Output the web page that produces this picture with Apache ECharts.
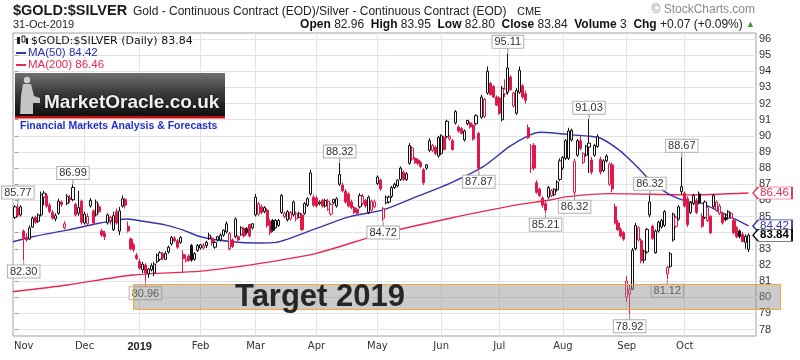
<!DOCTYPE html>
<html><head><meta charset="utf-8">
<script src="https://cdn.jsdelivr.net/npm/echarts@6/dist/echarts.min.js"></script>
<style>html,body{margin:0;padding:0;background:#fff}#c{width:800px;height:360px}</style>
</head><body><div id="c"></div>
<script>
// ---- Data (trading-day index 0 = 29-Oct-2018 ... 253 = 31-Oct-2019) ----
const monthIdx    = [3, 24, 43, 64, 83, 104, 125, 147, 167, 189, 211, 231];
const monthLabels = ['Nov','Dec','2019','Feb','Mar','Apr','May','Jun','Jul','Aug','Sep','Oct'];
const gridMonthIdx = [24, 43, 64, 83, 104, 125, 147, 167, 189, 211, 231];
const yTicks = [78,79,80,81,82,83,84,85,86,87,88,89,90,91,92,93,94,95,96];

const opens = [84.95,85.55,85.10,84.10,83.70,83.60,84.35,84.95,84.70,85.10,86.20,86.30,85.70,85.25,84.85,85.20,85.90,84.30,85.80,86.15,
86.05,85.75,85.20,85.95,84.60,84.55,85.65,85.35,85.10,85.60,84.10,83.95,84.60,84.75,84.20,85.30,84.10,85.65,86.05,84.40,
83.60,83.25,82.60,82.20,81.70,82.00,81.45,81.70,81.50,82.20,82.35,82.70,82.35,82.80,83.30,83.65,83.50,83.40,82.65,82.25,
82.55,83.20,82.35,82.90,83.05,83.05,83.20,83.65,83.65,83.10,83.55,83.55,83.85,84.05,83.00,83.55,83.75,83.75,83.90,84.25,
84.25,84.50,84.30,85.10,85.15,85.60,85.30,85.40,84.70,84.75,84.30,84.45,85.25,85.00,84.80,84.85,85.10,84.85,84.95,85.10,
85.20,85.70,86.40,86.20,86.15,85.80,86.00,85.65,85.45,85.15,85.85,85.65,87.00,86.95,86.55,86.40,85.90,85.55,85.45,85.60,
85.80,86.00,85.25,85.40,85.60,87.05,87.25,84.90,85.85,85.90,86.25,86.80,86.90,87.30,87.75,87.30,88.30,88.55,88.60,88.50,
88.35,87.90,88.00,89.10,89.10,89.30,88.75,88.90,89.90,89.95,89.80,89.70,90.80,90.55,90.45,89.75,90.75,90.80,90.65,90.75,
90.15,91.15,91.20,92.65,93.25,93.05,92.40,92.35,91.00,92.60,92.70,93.65,91.85,91.40,92.70,93.10,92.60,90.50,88.00,89.40,
87.10,86.70,86.15,85.80,86.20,86.30,86.35,86.65,87.30,88.00,88.60,88.60,89.75,86.50,88.80,89.70,88.35,88.80,89.30,88.50,
88.80,89.35,88.55,87.85,88.45,87.00,88.20,85.60,84.60,84.20,84.00,80.00,80.20,80.50,83.00,83.55,83.50,82.30,82.80,85.10,
84.40,82.75,84.10,84.35,84.45,81.45,81.90,83.55,84.40,84.85,86.55,86.45,86.10,85.25,85.80,86.00,86.40,85.00,84.95,84.75,
85.00,85.60,85.40,85.20,85.20,84.95,84.90,84.95,84.75,84.30,84.10,83.90,83.40,82.96];
const highs = [85.70,85.77,85.70,84.20,83.95,84.45,85.00,85.05,85.20,86.55,86.60,86.45,85.85,85.40,85.20,86.10,86.00,84.70,86.40,86.35,
86.99,85.85,86.60,86.05,85.30,85.20,86.15,85.45,86.05,85.80,84.25,84.10,85.20,85.05,85.30,85.50,85.60,86.30,86.15,84.70,
83.70,83.35,82.75,82.40,82.20,82.10,81.80,82.10,82.20,82.70,82.85,82.80,82.85,83.20,83.80,83.80,83.60,83.80,82.90,82.65,
82.65,83.30,82.80,83.30,83.30,83.35,83.50,84.00,83.75,83.50,83.80,83.95,84.20,84.70,84.05,83.65,84.95,83.85,84.40,84.35,
84.35,84.55,84.60,86.40,85.90,85.75,85.65,85.50,84.85,84.85,84.85,84.85,86.40,85.30,85.40,85.35,86.00,85.30,85.30,85.20,
85.90,86.20,87.90,86.35,86.30,86.00,86.10,86.10,86.10,85.85,86.10,86.20,88.32,87.10,86.70,86.50,86.05,85.65,85.55,86.45,
86.40,86.10,86.30,86.05,86.05,87.55,87.35,85.60,86.30,86.30,86.90,87.10,87.30,88.10,87.85,87.75,89.55,89.35,88.70,88.60,
88.45,88.00,88.25,89.85,89.50,89.40,90.00,90.10,90.00,91.00,90.05,89.80,91.60,90.65,90.55,90.40,91.00,90.90,90.75,91.35,
90.25,92.55,92.35,94.30,93.35,93.15,92.50,92.45,93.10,93.50,95.11,93.75,92.75,92.95,94.30,93.20,92.80,90.70,89.50,89.55,
87.25,86.80,86.25,86.00,86.90,86.70,86.75,87.25,88.60,88.75,89.80,90.50,90.45,88.60,89.80,90.00,89.00,89.45,91.03,88.70,
89.50,90.10,88.70,88.55,88.85,88.35,88.35,85.80,84.80,84.30,84.10,81.30,80.80,83.05,84.60,84.40,83.65,82.95,84.30,86.32,
84.50,84.20,84.75,84.85,85.40,81.95,82.80,85.25,85.05,85.70,88.67,86.55,86.25,85.95,86.40,86.15,86.55,85.20,86.00,85.65,
85.10,86.40,86.00,85.80,85.30,85.20,85.40,85.30,84.85,84.40,84.20,84.05,83.90,83.95];
const lows = [84.85,84.95,85.00,82.30,83.45,83.55,84.30,84.55,84.60,85.00,85.70,85.55,85.20,84.80,84.70,85.10,85.60,84.20,85.70,85.85,
85.95,85.00,85.05,84.50,84.50,84.45,85.55,84.50,85.00,85.20,83.75,83.55,84.50,84.50,84.10,84.50,83.85,85.55,85.50,84.00,
82.90,82.80,82.30,81.70,81.50,80.96,81.20,81.60,81.30,82.10,82.25,82.30,82.30,82.70,83.20,83.40,83.00,83.30,81.50,82.15,
82.20,82.20,82.25,82.80,82.95,82.95,83.05,83.55,83.20,83.00,83.45,83.45,83.75,83.95,82.90,83.05,83.65,83.50,83.80,83.70,
83.90,83.70,84.20,85.00,85.05,85.15,85.20,84.30,83.85,84.05,84.25,84.35,85.15,84.90,84.70,84.75,85.00,84.70,84.90,84.10,
85.10,85.60,86.30,85.60,85.55,85.70,85.55,85.55,85.35,85.05,85.75,85.55,86.90,86.50,85.80,85.55,85.45,85.15,85.15,85.50,
85.70,85.55,85.15,85.30,85.50,86.95,86.60,84.72,85.75,85.80,86.15,86.70,86.80,87.20,87.20,87.20,88.20,88.45,88.25,88.20,
88.00,86.95,87.90,89.00,89.00,88.80,88.65,88.80,89.10,89.85,89.70,89.10,90.70,90.20,90.10,89.65,90.65,90.45,89.70,90.65,
87.87,91.05,91.10,92.55,92.50,92.35,91.85,91.30,90.90,92.40,92.55,92.80,91.75,91.30,92.60,92.30,92.00,89.80,87.70,87.85,
86.40,86.20,85.55,85.21,86.10,86.20,86.25,86.55,87.20,87.90,88.50,88.50,89.65,86.32,88.70,89.10,88.25,88.70,87.70,87.60,
88.70,89.25,87.60,87.75,88.35,86.90,86.50,84.50,84.10,83.70,83.50,79.70,78.92,80.45,82.90,83.45,82.10,82.10,82.70,84.95,
83.55,82.70,84.00,84.25,84.35,81.12,81.80,83.45,84.30,84.75,86.35,85.55,84.35,85.15,85.70,85.15,85.75,84.30,84.85,84.65,
83.90,85.50,85.30,85.10,84.50,84.70,84.80,84.85,83.90,83.65,83.65,83.40,83.00,82.80];
const closes = [85.60,85.05,85.60,83.70,83.55,84.30,84.90,84.65,85.10,86.35,86.45,85.65,85.30,84.90,85.05,85.95,85.75,84.55,86.25,86.05,
86.80,85.10,85.55,84.65,85.15,85.00,86.00,84.60,85.90,85.30,83.85,83.75,85.10,84.95,85.05,84.60,85.35,86.10,85.70,84.10,
83.00,82.95,82.40,81.80,82.05,81.50,81.75,81.95,82.05,82.60,82.75,82.45,82.70,83.10,83.70,83.50,83.10,83.70,82.40,82.35,
82.30,82.30,82.70,83.20,83.25,83.20,83.40,83.85,83.35,83.40,83.75,83.85,84.15,84.55,83.95,83.15,84.85,83.55,84.30,83.80,
84.00,83.80,84.55,86.20,85.80,85.25,85.55,84.45,84.00,84.15,84.75,84.75,86.30,85.20,85.30,85.25,85.90,85.20,85.20,84.20,
85.80,86.10,87.70,85.70,85.65,85.90,85.65,86.00,85.95,85.75,86.05,86.10,87.60,86.60,85.90,85.65,85.55,85.25,85.20,86.30,
86.25,85.65,86.20,85.95,85.90,87.45,86.70,85.50,86.20,86.20,86.80,87.00,87.25,88.00,87.30,87.65,89.40,89.25,88.35,88.30,
88.10,87.10,88.20,89.70,89.40,88.90,89.90,90.00,89.15,90.90,89.95,89.15,91.50,90.30,90.15,90.30,90.95,90.55,89.80,91.25,
88.00,92.40,92.25,94.00,92.55,92.40,91.90,91.40,92.95,92.90,94.20,92.85,92.65,92.80,94.05,92.40,92.20,89.90,89.30,88.00,
86.50,86.30,85.70,85.40,86.80,86.60,86.70,87.15,88.45,88.65,89.70,90.30,90.35,88.40,89.70,89.20,88.90,89.35,89.55,87.75,
89.40,89.95,87.75,88.45,88.75,88.25,86.70,84.60,84.20,83.80,83.60,81.00,80.50,82.90,84.45,84.30,82.25,82.85,84.20,85.90,
83.65,84.10,84.65,84.75,85.30,81.85,82.70,85.15,84.95,85.60,86.85,85.65,84.50,85.85,86.30,85.25,85.85,84.40,85.90,85.55,
84.00,86.30,85.90,85.65,84.60,84.80,85.30,85.20,84.00,83.75,83.75,83.45,83.77,83.84];

// Moving averages: [trading-day index, value]
const ma50 = [[-0.7,83.44],[6,83.75],[18,84.16],[29,84.58],[38.5,84.85],[43,84.74],[52,84.47],[58,84.16],[64,83.75],[75,83.44],
[84,83.36],[90,83.40],[104,84.27],[115.5,84.99],[127,85.41],[138.5,86.23],[150,87.06],[161.5,88.09],[170.5,89.33],[177.5,90.05],
[181,90.22],[186,90.18],[192,90.06],[198,89.98],[202,89.85],[208.5,89.1],[214.5,88.1],[220,87.06],[226,86.34],[232,85.92],
[237,85.82],[243,85.3],[249,84.79],[253,84.42]];
const ma200 = [[-0.7,80.34],[18,80.76],[40.7,81.38],[64,81.62],[84.5,82.1],[104,82.72],[127,83.96],[150,84.89],[173,85.72],
[184.5,86.02],[190,86.22],[205,86.42],[220,86.38],[232,86.34],[253,86.46]];

// High/low callouts: [index, value, 'h'|'l']
const callouts = [[1,85.77,'h'],[3,82.30,'l'],[20,86.99,'h'],[45,80.96,'l'],[112,88.32,'h'],[127,84.72,'l'],[160,87.87,'l'],
[170,95.11,'h'],[183,85.21,'l'],[193,86.32,'l'],[198,91.03,'h'],[212,78.92,'l'],[219,86.32,'h'],[225,81.12,'l'],[230,88.67,'h']];

const lastClose = 83.84, lastMa50 = 84.42, lastMa200 = 86.46;
const targetBand = [79.27, 80.82];
const targetStartIdx = 40.7;

// ---- Chart ----
const RED = '#e0194b', BLK = '#111111', BLUE = '#3535ae', MARED = '#e8294f';
const FONT = '"Liberation Sans", Arial, sans-serif';

const candleData = opens.map((o, i) => {
  const c = closes[i];
  const prev = i > 0 ? closes[i - 1] : o;
  const col = c >= prev ? BLK : RED;
  const fill = c > o ? '#ffffff' : col;
  return { value: [i, o, c, lows[i], highs[i]],
    itemStyle: { color: fill, color0: fill, borderColor: col, borderColor0: col, borderWidth: 1 } };
});

const calloutPts = callouts.map(([i, v, t]) => ({
  coord: [i, v], value: v,
  symbol: 'rect', symbolSize: [1, 5], symbolOffset: [0, t === 'h' ? -3 : 3],
  itemStyle: { color: '#8a8a8a' },
  label: { show: true, position: t === 'h' ? 'top' : 'bottom', distance: 0,
    formatter: v.toFixed(2), backgroundColor: '#ffffff', borderColor: '#b0b0b0', borderWidth: 1,
    padding: [1, 2, 0, 2], color: '#333', fontSize: 11, fontFamily: FONT }
}));

function tag(i, v, color, bold) {
  return { coord: [i, v], value: v,
    symbol: 'path://M0,6L6,0L44,0L44,12L6,12Z', symbolSize: [39, 12], symbolKeepAspect: false,
    symbolOffset: [24, 0],
    itemStyle: { color: '#ffffff', borderColor: color, borderWidth: 1 },
    label: { show: true, position: 'inside', offset: [2, 0], formatter: v.toFixed(2), color: color,
      fontSize: 11.5, fontWeight: bold ? 'bold' : 'normal', fontFamily: FONT } };
}
const lastIdx = closes.length - 1;

const G = (o) => Object.assign({ z: 100 }, o);
const headerGraphics = [
  G({ id: 'title', type: 'text', x: 13, y: 11, style: { text: '$GOLD:$SILVER', font: 'bold 14.5px ' + FONT, fill: '#1a1a1a', verticalAlign: 'middle' } }),
  G({ id: 'sub', type: 'text', x: 133, y: 12, style: { text: 'Gold - Continuous Contract (EOD)/Silver - Continuous Contract (EOD)', font: '12px ' + FONT, fill: '#222', verticalAlign: 'middle' } }),
  G({ id: 'cme', type: 'text', x: 517, y: 12, style: { text: 'CME', font: '11px ' + FONT, fill: '#222', verticalAlign: 'middle' } }),
  G({ id: 'sc', type: 'text', x: 755, y: 10, style: { text: '© StockCharts.com', font: '12px ' + FONT, fill: '#8a8a8a', align: 'right', verticalAlign: 'middle' } }),
  G({ id: 'date', type: 'text', x: 13, y: 25, style: { text: '31-Oct-2019', font: '11px ' + FONT, fill: '#222', verticalAlign: 'middle' } }),
  G({ id: 'ohlc', type: 'text', x: 755, y: 25, style: {
      text: '{b|Open} 82.96  {b|High} 83.95  {b|Low} 82.80  {b|Close} 83.84  {b|Volume} 3  {b|Chg} +0.07 (+0.09%) {g|▲}',
      font: '12px ' + FONT, fill: '#222', align: 'right', verticalAlign: 'middle',
      rich: { b: { font: 'bold 12px ' + FONT, fill: '#111' }, g: { font: '9px ' + FONT, fill: '#2a9a2a' } } } }),
  // legend inside the plot
  G({ id: 'ic1', type: 'rect', shape: { x: 17, y: 37, width: 3, height: 7 }, style: { fill: '#222' } }),
  G({ id: 'ic2', type: 'rect', shape: { x: 22, y: 36, width: 3, height: 6 }, style: { fill: '#fff', stroke: '#222', lineWidth: 1 } }),
  G({ id: 'ic3', type: 'rect', shape: { x: 26, y: 38, width: 2, height: 6 }, style: { fill: '#222' } }),
  G({ id: 'lg0', type: 'text', x: 31, y: 41, style: { text: '$GOLD:$SILVER (Daily) 83.84', font: '11px "DejaVu Sans", Verdana, sans-serif', fill: '#111', verticalAlign: 'middle' } }),
  G({ id: 'lg1l', type: 'rect', shape: { x: 16, y: 52, width: 10, height: 2 }, style: { fill: BLUE } }),
  G({ id: 'lg1', type: 'text', x: 28, y: 53, style: { text: 'MA(50) 84.42', font: '11.5px ' + FONT, fill: '#2b2bb5', verticalAlign: 'middle' } }),
  G({ id: 'lg2l', type: 'rect', shape: { x: 16, y: 64, width: 10, height: 2 }, style: { fill: MARED } }),
  G({ id: 'lg2', type: 'text', x: 28, y: 65, style: { text: 'MA(200) 86.46', font: '11.5px ' + FONT, fill: MARED, verticalAlign: 'middle' } }),
  // MarketOracle logo
  G({ id: 'logo', type: 'rect', shape: { x: 15, y: 73, width: 210, height: 43 },
    style: { fill: new echarts.graphic.LinearGradient(0, 0, 0, 1, [{ offset: 0, color: '#707070' }, { offset: 0.45, color: '#3c3c3c' }, { offset: 1, color: '#101010' }]) } }),
  G({ id: 'logoRed', type: 'rect', shape: { x: 15, y: 116, width: 210, height: 2.5 }, style: { fill: '#c81010' } }),
  G({ id: 'st1', type: 'circle', shape: { cx: 27, cy: 80, r: 3.2 }, style: { fill: '#cfcfcf' } }),
  G({ id: 'st2', type: 'polygon', shape: { points: [[23, 84], [31, 84], [34, 96], [40, 98], [40, 103], [33, 103], [33, 114], [20, 114], [21, 96]] }, style: { fill: '#c4c4c4' } }),
  G({ id: 'logoTxt', type: 'text', x: 44, y: 103, style: { text: 'MarketOracle.co.uk', font: 'bold 19px ' + FONT, fill: '#f2f2f2', verticalAlign: 'middle', textShadowColor: '#000', textShadowBlur: 2 } }),
  G({ id: 'logoSub', type: 'text', x: 20, y: 126, style: { text: 'Financial Markets Analysis & Forecasts', font: 'bold 10.5px ' + FONT, fill: '#1f2fd0', verticalAlign: 'middle' } })
];

const chart = echarts.init(document.getElementById('c'), null, { renderer: 'canvas', width: 800, height: 360 });
const option = {
  animation: false,
  backgroundColor: '#ffffff',
  grid: { left: 13, top: 33, right: 44, bottom: 24, containLabel: false, show: true, borderColor: '#a0a0a0', borderWidth: 1, backgroundColor: 'transparent' },
  xAxis: {
    type: 'value', min: -0.69, max: 255.59,
    axisLine: { show: false },
    axisTick: { show: false, customValues: gridMonthIdx },
    splitLine: { show: true, lineStyle: { color: '#e3e3e3', width: 1 } },
    axisLabel: { customValues: monthIdx, margin: 5, fontSize: 10, color: '#333', fontFamily: '"DejaVu Sans", Verdana, sans-serif',
      formatter: v => { const k = monthIdx.indexOf(v); const s = k >= 0 ? monthLabels[k] : ''; return s === '2019' ? '{b|2019}' : s; },
      rich: { b: { fontWeight: 'bold', fontSize: 11, color: '#222', fontFamily: FONT } } }
  },
  yAxis: {
    type: 'value', position: 'right', min: 77.597, max: 96.372,
    axisLine: { show: false },
    axisTick: { show: true, length: 3, customValues: yTicks, lineStyle: { color: '#999' } },
    splitLine: { show: true, lineStyle: { color: '#e3e3e3', width: 1 } },
    axisLabel: { customValues: yTicks, margin: 3, fontSize: 11, color: '#333', fontFamily: FONT }
  },
  series: [
    { type: 'line', name: 'MA200', data: ma200, showSymbol: false, smooth: 0.25, z: 3,
      lineStyle: { color: MARED, width: 1.4 }, markPoint: { data: [tag(lastIdx, lastMa200, MARED, false)], z: 10 } },
    { type: 'line', name: 'MA50', data: ma50, showSymbol: false, smooth: 0.25, z: 3,
      lineStyle: { color: BLUE, width: 1.4 }, markPoint: { data: [tag(lastIdx, lastMa50, BLUE, false)], z: 10 } },
    { type: 'candlestick', name: 'GOLD:SILVER', data: candleData, barWidth: 2.6, z: 4,
      markPoint: { data: calloutPts.concat([tag(lastIdx, lastClose, '#000', true)]), z: 11 } }
  ],
  graphic: headerGraphics
};
chart.setOption(option);

// Target band annotation positioned through the chart's scales
const pTop = chart.convertToPixel({ gridIndex: 0 }, [targetStartIdx, targetBand[1]]);
const pBot = chart.convertToPixel({ gridIndex: 0 }, [targetStartIdx, targetBand[0]]);
const bandRight = 780;
chart.setOption({ graphic: headerGraphics.concat([
  { id: 'band', type: 'rect', z: 50, shape: { x: Math.round(pTop[0]) + 0.5, y: Math.round(pTop[1]) + 0.5, width: bandRight - Math.round(pTop[0]), height: Math.round(pBot[1] - pTop[1]) },
    style: { fill: 'rgba(140,140,140,0.45)', stroke: '#f2a73c', lineWidth: 1 } },
  { id: 'target', type: 'text', z: 60, x: 320, y: (pTop[1] + pBot[1]) / 2 + 1,
    style: { text: 'Target 2019', font: 'bold 31px ' + FONT, fill: '#262626', align: 'center', verticalAlign: 'middle' } }
]) });
</script>
</body></html>
